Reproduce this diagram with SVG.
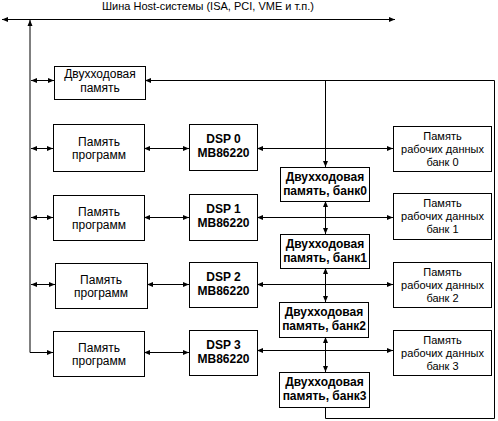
<svg xmlns="http://www.w3.org/2000/svg" width="498" height="421" viewBox="0 0 498 421">
<style>
rect{fill:#fff;stroke:#000;stroke-width:1}
.c{fill:none;stroke:#000;stroke-width:1}
text{font-family:"Liberation Sans",Arial,sans-serif;fill:#000;text-anchor:middle}
.t{font-size:11px}
.p{font-size:12px}
.b{font-size:12px;font-weight:bold}
.d{font-size:11px}
</style>
<defs>
<marker id="a" markerUnits="userSpaceOnUse" markerWidth="6" markerHeight="6" refX="6" refY="3" orient="auto-start-reverse">
<path d="M0,0.5 L6,3 L0,5.5 z" fill="#000"/>
</marker>
</defs>
<text class="t" x="208" y="10">Шина Host-системы (ISA, PCI, VME и т.п.)</text>
<g id="connectors">
<line class="c" x1="2" y1="19.5" x2="395" y2="19.5" marker-start="url(#a)" marker-end="url(#a)"/>
<path class="c" d="M30,20 V352.5 H53" marker-start="url(#a)" marker-end="url(#a)"/>
<line class="c" x1="31" y1="80.5" x2="54" y2="80.5" marker-start="url(#a)" marker-end="url(#a)"/>
<line class="c" x1="31" y1="148.5" x2="53" y2="148.5" marker-start="url(#a)" marker-end="url(#a)"/>
<line class="c" x1="31" y1="217.5" x2="53" y2="217.5" marker-start="url(#a)" marker-end="url(#a)"/>
<line class="c" x1="31" y1="284.5" x2="55" y2="284.5" marker-start="url(#a)" marker-end="url(#a)"/>
<line class="c" x1="144" y1="148.5" x2="189" y2="148.5" marker-start="url(#a)" marker-end="url(#a)"/>
<line class="c" x1="144" y1="217.5" x2="189" y2="217.5" marker-start="url(#a)" marker-end="url(#a)"/>
<line class="c" x1="147" y1="284.5" x2="189" y2="284.5" marker-start="url(#a)" marker-end="url(#a)"/>
<line class="c" x1="144" y1="352.5" x2="189" y2="352.5" marker-start="url(#a)" marker-end="url(#a)"/>
<line class="c" x1="257" y1="148.5" x2="393" y2="148.5" marker-start="url(#a)" marker-end="url(#a)"/>
<line class="c" x1="257" y1="217.5" x2="393" y2="217.5" marker-start="url(#a)" marker-end="url(#a)"/>
<line class="c" x1="257" y1="284.5" x2="393" y2="284.5" marker-start="url(#a)" marker-end="url(#a)"/>
<line class="c" x1="257" y1="350.5" x2="393" y2="350.5" marker-start="url(#a)" marker-end="url(#a)"/>
<path class="c" d="M145,80.5 H494.5 V418.5 H325.5 V407" marker-start="url(#a)"/>
<line class="c" x1="325.5" y1="80.5" x2="325.5" y2="167" marker-end="url(#a)"/>
<line class="c" x1="325.5" y1="201" x2="325.5" y2="234" marker-start="url(#a)" marker-end="url(#a)"/>
<line class="c" x1="325.5" y1="268" x2="325.5" y2="302" marker-start="url(#a)" marker-end="url(#a)"/>
<line class="c" x1="325.5" y1="337" x2="325.5" y2="372" marker-start="url(#a)" marker-end="url(#a)"/>
</g>
<g id="dual-top"><rect x="54.5" y="66.5" width="91" height="33"/><text class="p" x="100" y="78">Двухходовая</text><text class="p" x="100" y="92">память</text></g>
<g id="prog0"><rect x="53.5" y="124.5" width="91" height="47"/><text class="p" x="99" y="146">Память</text><text class="p" x="99" y="159">программ</text></g>
<g id="prog1"><rect x="53.5" y="195.5" width="91" height="45"/><text class="p" x="99" y="216">Память</text><text class="p" x="99" y="229">программ</text></g>
<g id="prog2"><rect x="55.5" y="263.5" width="92" height="45"/><text class="p" x="101" y="284">Память</text><text class="p" x="101" y="297">программ</text></g>
<g id="prog3"><rect x="53.5" y="331.5" width="91" height="45"/><text class="p" x="99" y="352">Память</text><text class="p" x="99" y="365">программ</text></g>
<g id="dsp0"><rect x="189.5" y="124.5" width="68" height="46"/><text class="b" x="223.5" y="143">DSP 0</text><text class="b" x="223.5" y="157">MB86220</text></g>
<g id="dsp1"><rect x="189.5" y="194.5" width="68" height="46"/><text class="b" x="223.5" y="213">DSP 1</text><text class="b" x="223.5" y="227">MB86220</text></g>
<g id="dsp2"><rect x="189.5" y="262.5" width="68" height="45"/><text class="b" x="223.5" y="281">DSP 2</text><text class="b" x="223.5" y="295">MB86220</text></g>
<g id="dsp3"><rect x="189.5" y="330.5" width="68" height="45"/><text class="b" x="223.5" y="349">DSP 3</text><text class="b" x="223.5" y="363">MB86220</text></g>
<g id="bank0"><rect x="280.5" y="167.5" width="89" height="34"/><text class="b" x="325" y="181">Двухходовая</text><text class="b" x="325" y="195">память, банк0</text></g>
<g id="bank1"><rect x="280.5" y="234.5" width="89" height="34"/><text class="b" x="325" y="248">Двухходовая</text><text class="b" x="325" y="262">память, банк1</text></g>
<g id="bank2"><rect x="279.5" y="302.5" width="89" height="35"/><text class="b" x="324" y="316">Двухходовая</text><text class="b" x="324" y="330">память, банк2</text></g>
<g id="bank3"><rect x="279.5" y="372.5" width="90" height="35"/><text class="b" x="324.5" y="386">Двухходовая</text><text class="b" x="324.5" y="400">память, банк3</text></g>
<g id="data0"><rect x="393.5" y="126.5" width="98" height="45"/><text class="d" x="442.5" y="140">Память</text><text class="d" x="442.5" y="153">рабочих данных</text><text class="d" x="442.5" y="166">банк 0</text></g>
<g id="data1"><rect x="393.5" y="193.5" width="98" height="46"/><text class="d" x="442.5" y="207">Память</text><text class="d" x="442.5" y="220">рабочих данных</text><text class="d" x="442.5" y="233">банк 1</text></g>
<g id="data2"><rect x="393.5" y="262.5" width="98" height="45"/><text class="d" x="442.5" y="276">Память</text><text class="d" x="442.5" y="289">рабочих данных</text><text class="d" x="442.5" y="302">банк 2</text></g>
<g id="data3"><rect x="393.5" y="330.5" width="98" height="45"/><text class="d" x="442.5" y="344">Память</text><text class="d" x="442.5" y="357">рабочих данных</text><text class="d" x="442.5" y="370">банк 3</text></g>
</svg>
